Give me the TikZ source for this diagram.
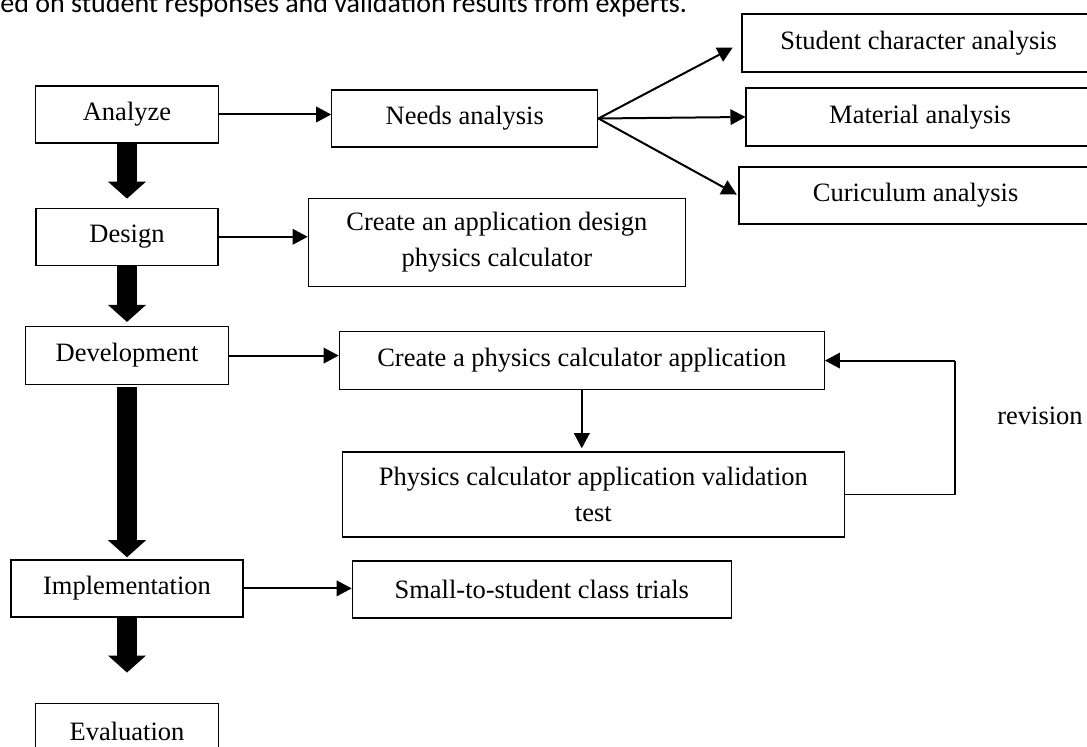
\documentclass[tikz,border=0pt]{standalone}
\usepackage{fontspec}
\setmainfont{Liberation Serif}
\newfontfamily\captionfont{Carlito}
\usepackage{tikz}
\usetikzlibrary{arrows.meta, positioning}
\tikzset{
    stage/.style={
        rectangle,
        draw=black,
        line width=0.65pt,
        minimum height=28.5pt,
        fill=white
    },
    task/.style={
        rectangle,
        draw=black,
        line width=0.65pt,
        minimum height=28.5pt,
        align=center,
        fill=white
    },
    wire/.style={
        draw=black,
        line width=1pt,
        -{Triangle[length=7.5pt,width=8pt,line width=0pt]}
    },
    plainwire/.style={
        draw=black,
        line width=0.6pt
    },
    flow/.style={
        draw=black,
        line width=10pt,
        -{Triangle[length=8.5pt,width=19pt,line width=0pt]}
    }
}

\begin{document}
\begin{tikzpicture}[font=\fontsize{13.25}{18}\selectfont]
\useasboundingbox (0,0) rectangle (543.5pt,-373.5pt);

% Caption line, cut at the top
\node[font=\captionfont\fontsize{14}{16}\selectfont, anchor=base west, inner sep=0pt] (caption) at (0,-6.5pt) {ed on student responses and validation results from experts.};

% Stages
\node[stage, minimum width=91.5pt] (analyze) at (63.5pt,-57.25pt) {Analyze};
\node[stage, minimum width=91pt, below=32pt of analyze] (design) {Design};
\node[stage, minimum width=101.5pt, minimum height=29pt, below=30pt of design] (develop) {Development};
\node[stage, minimum width=116pt, below=87pt of develop] (implement) {Implementation};
\node[stage, minimum width=91.5pt, below=42.5pt of implement] (evaluate) {Evaluation};

\draw[flow, shorten >=4.5pt] (analyze) -- (design);
\draw[flow, shorten >=2pt] (design) -- (develop);
\draw[flow, shorten <=1pt, shorten >=1pt] (develop) -- (implement);
\draw[flow, shorten >=15pt] (implement) -- (evaluate);

% Analysis
\node[task, minimum width=133pt, right=56pt of analyze, yshift=-2pt] (needs) {Needs analysis};
\node[task, minimum width=176.5pt, minimum height=29pt, right=71.5pt of needs, yshift=37.75pt] (student) {Student character analysis};
\node[task, minimum width=174pt, minimum height=29pt, right=73.5pt of needs, yshift=0.75pt] (material) {Material analysis};
\node[task, minimum width=176.5pt, right=70pt of needs, yshift=-38.5pt] (curriculum) {Curiculum analysis};

\draw[wire] (analyze.east) -- (analyze.east -| needs.west);
\draw[wire, shorten >=5pt] (needs.east) -- (student.west);
\draw[wire] (needs.east) -- (material.west);
\draw[wire, shorten >=1pt] (needs.east) -- (curriculum.west);

% Design
\node[task, minimum width=188.5pt, minimum height=44pt, right=44.5pt of design, yshift=-2.75pt] (appdesign) {Create an application design\\physics calculator};
\draw[wire] (design.east) -- (design.east -| appdesign.west);

% Development
\node[task, minimum width=242.5pt, minimum height=29pt, right=54.75pt of develop, yshift=-2.5pt] (buildapp) {Create a physics calculator application};
\node[task, minimum width=251pt, minimum height=42.5pt, below=30.5pt of buildapp, xshift=5.75pt] (validate) {Physics calculator application validation\\test};

\draw[wire] (develop.east) -- (develop.east -| buildapp.west);
\draw[wire, shorten >=1.5pt] (buildapp.south) -- (buildapp.south |- validate.north);

% Revision loop
\coordinate[right=65pt of buildapp.east] (revturn);
\draw[plainwire] (validate.east) -| (revturn);
\draw[wire] (revturn) -- (buildapp.east);
\node[right=21pt of revturn, yshift=-27.5pt, inner sep=0pt] (revision) {revision};

% Implementation
\node[task, minimum width=189.5pt, right=54pt of implement, yshift=-0.5pt] (trial) {Small-to-student class trials};
\draw[wire] (implement.east) -- (implement.east -| trial.west);

\end{tikzpicture}
\end{document}
